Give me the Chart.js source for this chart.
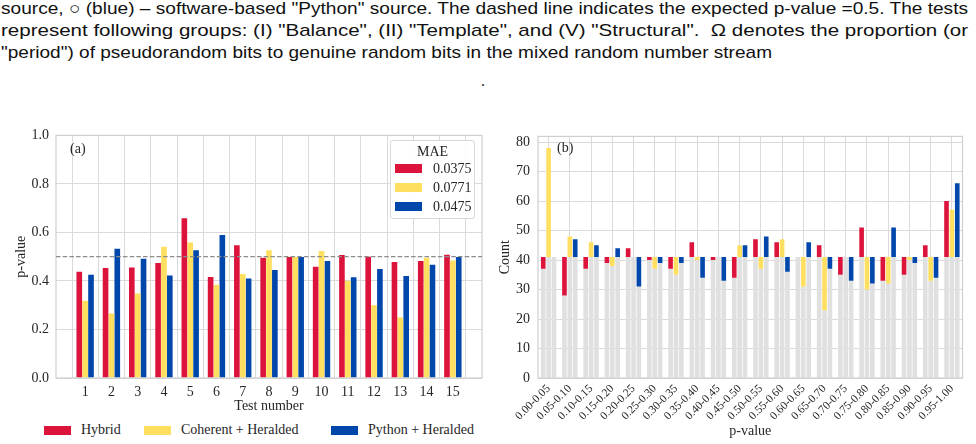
<!DOCTYPE html>
<html lang="en">
<head>
<meta charset="UTF-8">
<title>p-value tests and p-value histogram</title>
<script src="https://cdn.jsdelivr.net/npm/chart.js"></script>
<style>
    body {
        margin: 0;
        width: 976px;
        height: 444px;
        overflow: hidden;
        background: #fff;
        position: relative;
    }
    .cap {
        position: absolute;
        left: 1px;
        white-space: nowrap;
        font-family: 'Liberation Sans', Arial, sans-serif;
        font-size: 17px;
        line-height: 17px;
        color: #111;
        transform-origin: 0 0;
    }
    .serif {
        font-family: 'Liberation Serif', serif;
        color: #262626;
        font-size: 14px;
        line-height: 14px;
        position: absolute;
        white-space: nowrap;
    }
    canvas { position: absolute; }
    #maeBox {
        position: absolute;
        left: 390px;
        top: 140px;
        width: 83px;
        height: 77px;
        border: 1px solid #d8d8d8;
        border-radius: 3px;
        background: rgba(255, 255, 255, 0.92);
    }
    .swatch {
        position: absolute;
        width: 27px;
        height: 9px;
    }
</style>
</head>
<body>
    <div class="cap" data-w="967" style="top:0px">source, &#9675; (blue) &ndash; software-based "Python" source. The dashed line indicates the expected p-value =0.5. The tests</div>
    <div class="cap" data-w="967" style="top:22px">represent following groups: (I) "Balance", (II) "Template", and (V) "Structural". &nbsp;&Omega; denotes the proportion (or</div>
    <div class="cap" data-w="771" style="top:44px">"period") of pseudorandom bits to genuine random bits in the mixed random number stream</div>
    <div class="serif" style="left:481px; top:74px; font-size:16px;">.</div>

    <canvas id="chartA" width="492" height="295" style="left:0; top:120px;"></canvas>
    <canvas id="chartB" width="484" height="324" style="left:492px; top:120px;"></canvas>

    <div class="serif" style="left:70px; top:142px;">(a)</div>
    <div class="serif" style="left:557px; top:141px;">(b)</div>
    <div id="maeBox"></div>
    <div id="bottomLegend"></div>

    <script>
        // panel (a): mean p-value per test
        const testNumbers = ['1', '2', '3', '4', '5', '6', '7', '8', '9', '10', '11', '12', '13', '14', '15'];
        const hybridP = [0.438, 0.453, 0.455, 0.474, 0.658, 0.416, 0.547, 0.496, 0.499, 0.459, 0.507, 0.500, 0.478, 0.482, 0.508];
        const coherentP = [0.318, 0.266, 0.348, 0.541, 0.559, 0.384, 0.429, 0.527, 0.499, 0.523, 0.401, 0.300, 0.249, 0.496, 0.484];
        const pythonP = [0.426, 0.533, 0.492, 0.423, 0.527, 0.589, 0.410, 0.445, 0.499, 0.482, 0.415, 0.449, 0.420, 0.467, 0.499];
        const maeValues = ['0.0375', '0.0771', '0.0475'];
        const expectedP = 0.5;

        // panel (b): p-value histogram
        const binLabels = ['0.00-0.05', '0.05-0.10', '0.10-0.15', '0.15-0.20', '0.20-0.25', '0.25-0.30', '0.30-0.35',
            '0.35-0.40', '0.40-0.45', '0.45-0.50', '0.50-0.55', '0.55-0.60', '0.60-0.65', '0.65-0.70', '0.70-0.75',
            '0.75-0.80', '0.80-0.85', '0.85-0.90', '0.90-0.95', '0.95-1.00'];
        const hybridCounts = [37, 28, 37, 39, 44, 40, 37, 46, 40, 34, 47, 46, 41, 45, 35, 51, 33, 35, 45, 60];
        const coherentCounts = [78, 48, 46, 38, 41, 37, 35, 40, 41, 45, 37, 47, 31, 23, 41, 30, 32, 40, 33, 57];
        const pythonCounts = [41, 47, 45, 44, 31, 39, 39, 34, 33, 45, 48, 36, 46, 37, 33, 32, 51, 39, 34, 66];
        const expectedCount = 41;

        const seriesNames = ['Hybrid', 'Coherent + Heralded', 'Python + Heralded'];
        const seriesColors = ['#dc143c', '#ffdf5f', '#0047ab'];

        const gridColor = '#dadada';
        Chart.defaults.font.family = "'Liberation Serif', serif";
        Chart.defaults.font.size = 14;
        Chart.defaults.color = '#262626';

        // light frame on all four sides, like the seaborn axes
        const framePlugin = {
            id: 'frame',
            afterDatasetsDraw(chart) {
                const { ctx, chartArea: a } = chart;
                ctx.save();
                ctx.strokeStyle = '#cfcfcf';
                ctx.lineWidth = 1.2;
                ctx.strokeRect(a.left, a.top, a.right - a.left, a.bottom - a.top);
                ctx.restore();
            }
        };

        const expectedLinePlugin = {
            id: 'expectedLine',
            afterDatasetsDraw(chart) {
                const { ctx, chartArea: a } = chart;
                const y = chart.scales.y.getPixelForValue(expectedP);
                ctx.save();
                ctx.strokeStyle = '#8c8c8c';
                ctx.lineWidth = 1.3;
                ctx.setLineDash([4.5, 2.2]);
                ctx.beginPath();
                ctx.moveTo(a.left, y);
                ctx.lineTo(a.right, y);
                ctx.stroke();
                ctx.restore();
            }
        };

        new Chart(document.getElementById('chartA'), {
            type: 'bar',
            data: {
                labels: testNumbers,
                datasets: [hybridP, coherentP, pythonP].map((vals, i) => ({
                    label: seriesNames[i],
                    data: vals,
                    backgroundColor: seriesColors[i],
                    borderWidth: 0,
                    categoryPercentage: 0.67,
                    barPercentage: 0.96
                }))
            },
            options: {
                responsive: false,
                animation: false,
                layout: { padding: { top: 14, right: 10, left: 0, bottom: 0 } },
                scales: {
                    x: {
                        type: 'linear',
                        offset: false,
                        min: -0.11,
                        max: 16.11,
                        afterBuildTicks: s => { s.ticks = testNumbers.map(t => ({ value: +t })); },
                        grid: { color: gridColor, drawTicks: false },
                        border: { display: false },
                        ticks: { padding: 6, autoSkip: false, maxRotation: 0 },
                        title: { display: true, text: 'Test number', padding: 0 },
                        afterFit: s => { s.height = 37; }
                    },
                    y: {
                        min: 0,
                        max: 1,
                        grid: { color: gridColor, drawTicks: false },
                        border: { display: false },
                        ticks: { stepSize: 0.2, padding: 7, callback: v => v.toFixed(1) },
                        title: { display: true, text: 'p-value', padding: { top: 13, bottom: 0 } },
                        afterFit: s => { s.width = 56; }
                    }
                },
                plugins: {
                    legend: { display: false },
                    tooltip: { enabled: false }
                }
            },
            plugins: [framePlugin, expectedLinePlugin]
        });

        // colored bars show the deviation from the expected count, grey bars the rest
        const countSeries = [hybridCounts, coherentCounts, pythonCounts];
        const stackIds = ['hyb', 'coh', 'pyt'];
        const deviationSets = countSeries.map((vals, i) => ({
            label: seriesNames[i],
            stack: stackIds[i],
            order: 1,
            data: vals.map(v => v === expectedCount ? null : [expectedCount, v]),
            backgroundColor: seriesColors[i],
            borderWidth: 0,
            categoryPercentage: 0.76,
            barPercentage: 0.86
        }));
        const baseSets = countSeries.map((vals, i) => ({
            label: seriesNames[i] + ' base',
            stack: stackIds[i],
            order: 2,
            data: vals.map(v => Math.min(v, expectedCount)),
            backgroundColor: '#e0e0e0',
            borderWidth: 0,
            categoryPercentage: 0.76,
            barPercentage: 0.86
        }));

        new Chart(document.getElementById('chartB'), {
            type: 'bar',
            data: {
                labels: binLabels,
                datasets: [...deviationSets, ...baseSets]
            },
            options: {
                responsive: false,
                animation: false,
                layout: { padding: { top: 13, right: 13.5, left: 0, bottom: 4 } },
                scales: {
                    x: {
                        grid: { offset: false, color: gridColor, drawTicks: false },
                        border: { display: false },
                        ticks: { font: { size: 11.5 }, minRotation: 45, maxRotation: 45, autoSkip: false, padding: 4 },
                        title: { display: true, text: 'p-value', padding: 0 },
                        afterFit: s => { s.height = 62; }
                    },
                    y: {
                        stacked: false,
                        min: 0,
                        max: 81.9,
                        grid: { color: gridColor, drawTicks: false },
                        border: { display: false },
                        ticks: { stepSize: 10, includeBounds: false, padding: 8 },
                        title: { display: true, text: 'Count', padding: { top: 5, bottom: 0 } },
                        afterFit: s => { s.width = 46; }
                    }
                },
                plugins: {
                    legend: { display: false },
                    tooltip: { enabled: false }
                }
            },
            plugins: [framePlugin]
        });

        // MAE legend inside panel (a)
        const maeBox = document.getElementById('maeBox');
        maeBox.innerHTML = '<div class="serif" style="left:0; width:83px; text-align:center; top:4px;">MAE</div>';
        maeValues.forEach((m, i) => {
            const top = 23 + i * 19;
            maeBox.innerHTML += `<div class="swatch" style="left:4px; top:${top}px; background:${seriesColors[i]}"></div>` +
                `<div class="serif" style="left:42px; top:${top - 2}px;">${m}</div>`;
        });

        // bottom legend under panel (a)
        const legendX = [44, 144, 331];
        const bottomLegend = document.getElementById('bottomLegend');
        seriesNames.forEach((name, i) => {
            bottomLegend.innerHTML += `<div class="swatch" style="left:${legendX[i]}px; top:426px; background:${seriesColors[i]}"></div>` +
                `<div class="serif" style="left:${legendX[i] + 37}px; top:423px;">${name}</div>`;
        });

        // stretch caption lines to the justified widths
        document.querySelectorAll('.cap').forEach(el => {
            const w = el.getBoundingClientRect().width;
            el.style.transform = `scaleX(${(+el.dataset.w) / w})`;
        });
    </script>
</body>
</html>
